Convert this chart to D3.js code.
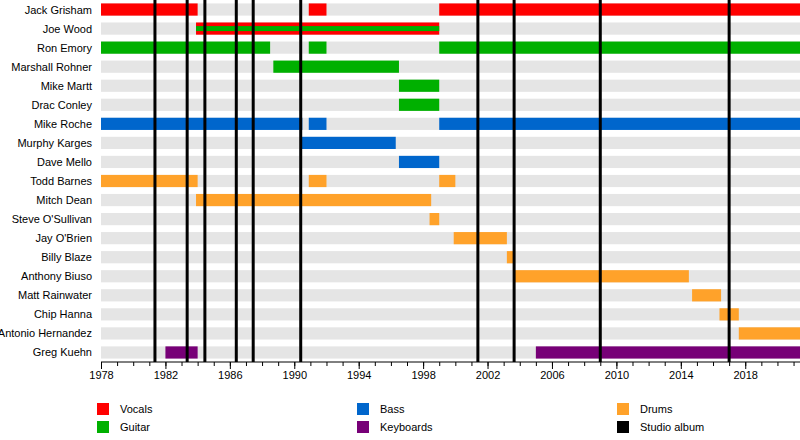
<!DOCTYPE html>
<html><head><meta charset="utf-8">
<script src="https://cdn.jsdelivr.net/npm/d3@7"></script>
<style>body{margin:0;background:#fff}text{font-family:"Liberation Sans",Arial,sans-serif;font-size:11px}</style>
</head><body><svg id="chart"></svg>
<script>
var members = ["Jack Grisham","Joe Wood","Ron Emory","Marshall Rohner","Mike Martt","Drac Conley","Mike Roche","Murphy Karges","Dave Mello","Todd Barnes","Mitch Dean","Steve O'Sullivan","Jay O'Brien","Billy Blaze","Anthony Biuso","Matt Rainwater","Chip Hanna","Antonio Hernandez","Greg Kuehn"];
var roles = ["Vocals","Guitar","Bass","Keyboards","Drums","Studio album"];
var roleColors = {"Vocals":"#ff0000","Guitar":"#00b000","Bass":"#0066cc","Drums":"#ffa22a","Keyboards":"#770077","Studio album":"#000000"};
var END = 2021.4;
// [member, role, start, end]
var spans = [
  ["Jack Grisham","Vocals",1978,1984],["Jack Grisham","Vocals",1990.9,1992],["Jack Grisham","Vocals",1999,END],
  ["Joe Wood","Vocals",1983.9,1999],
  ["Ron Emory","Guitar",1978,1988.5],["Ron Emory","Guitar",1990.9,1992],["Ron Emory","Guitar",1999,END],
  ["Marshall Rohner","Guitar",1988.7,1996.5],
  ["Mike Martt","Guitar",1996.5,1999],["Drac Conley","Guitar",1996.5,1999],
  ["Mike Roche","Bass",1978,1990.5],["Mike Roche","Bass",1990.9,1992],["Mike Roche","Bass",1999,END],
  ["Murphy Karges","Bass",1990.4,1996.3],["Dave Mello","Bass",1996.5,1999],
  ["Todd Barnes","Drums",1978,1984],["Todd Barnes","Drums",1990.9,1992],["Todd Barnes","Drums",1999,2000],
  ["Mitch Dean","Drums",1983.9,1998.5],["Steve O'Sullivan","Drums",1998.4,1999],
  ["Jay O'Brien","Drums",1999.9,2003.2],["Billy Blaze","Drums",2003.2,2003.7],
  ["Anthony Biuso","Drums",2003.7,2014.5],["Matt Rainwater","Drums",2014.7,2016.5],
  ["Chip Hanna","Drums",2016.4,2017.6],["Antonio Hernandez","Drums",2017.6,END],
  ["Greg Kuehn","Keyboards",1982,1984],["Greg Kuehn","Keyboards",2005,END]
];
// secondary role stripes inside a bar
var stripes = [["Joe Wood","Guitar",1983.9,1999]];
var albums = [1981.35,1983.35,1984.45,1986.4,1987.45,1990.4,2001.4,2003.65,2009.0,2017.0];
var tickYears = [1978,1982,1986,1990,1994,1998,2002,2006,2010,2014,2018];

var W = 800, H = 440, left = 101, right = 800, plotTop = 0, plotH = 362;
var svg = d3.select("#chart").attr("width",W).attr("height",H);
var x = d3.scaleLinear().domain([1978,END]).range([left,right]);
var y = d3.scaleBand().domain(members).range([plotTop,plotH]).paddingInner(0.36).paddingOuter(0.18);

svg.append("g").selectAll("rect").data(members).enter().append("rect")
  .attr("x",left).attr("width",right-left)
  .attr("y",d=>y(d)).attr("height",y.bandwidth()).attr("fill","#e5e5e5");

svg.append("g").selectAll("text").data(members).enter().append("text")
  .attr("x",92).attr("y",d=>y(d)+y.bandwidth()/2+4).attr("text-anchor","end").text(d=>d);

svg.append("g").selectAll("rect").data(spans).enter().append("rect")
  .attr("x",d=>x(d[2])).attr("width",d=>x(d[3])-x(d[2]))
  .attr("y",d=>y(d[0])).attr("height",y.bandwidth()).attr("fill",d=>roleColors[d[1]]);

svg.append("g").selectAll("rect").data(stripes).enter().append("rect")
  .attr("x",d=>x(d[2])).attr("width",d=>x(d[3])-x(d[2]))
  .attr("y",d=>y(d[0])+y.bandwidth()/2-2.5).attr("height",5).attr("fill",d=>roleColors[d[1]]);

svg.append("g").selectAll("line").data(albums).enter().append("line")
  .attr("x1",d=>x(d)).attr("x2",d=>x(d)).attr("y1",plotTop).attr("y2",plotH)
  .attr("stroke","#000").attr("stroke-width",3);

var axis = svg.append("g").attr("transform","translate(0,"+plotH+")");
axis.call(d3.axisBottom(x).tickValues(d3.range(1978,2022)).tickSize(4).tickFormat(""));
axis.call(g=>g.select(".domain").attr("d","M"+left+",0H"+right));
var major = svg.append("g").attr("transform","translate(0,"+plotH+")");
major.call(d3.axisBottom(x).tickValues(tickYears).tickSize(7).tickFormat(d3.format("d")));
major.select(".domain").remove();
major.selectAll("text").attr("font-size","11px").attr("font-family","Liberation Sans, Arial, sans-serif").attr("y",9);

var legendRoles = ["Vocals","Guitar","Bass","Keyboards","Drums","Studio album"];
var leg = svg.append("g").selectAll("g").data(legendRoles).enter().append("g")
  .attr("transform",(d,i)=>"translate("+(97+Math.floor(i/2)*260)+","+(403+(i%2)*18)+")");
leg.append("rect").attr("width",12).attr("height",12).attr("fill",d=>roleColors[d]);
leg.append("text").attr("x",23).attr("y",10).text(d=>d);
</script></body></html>
